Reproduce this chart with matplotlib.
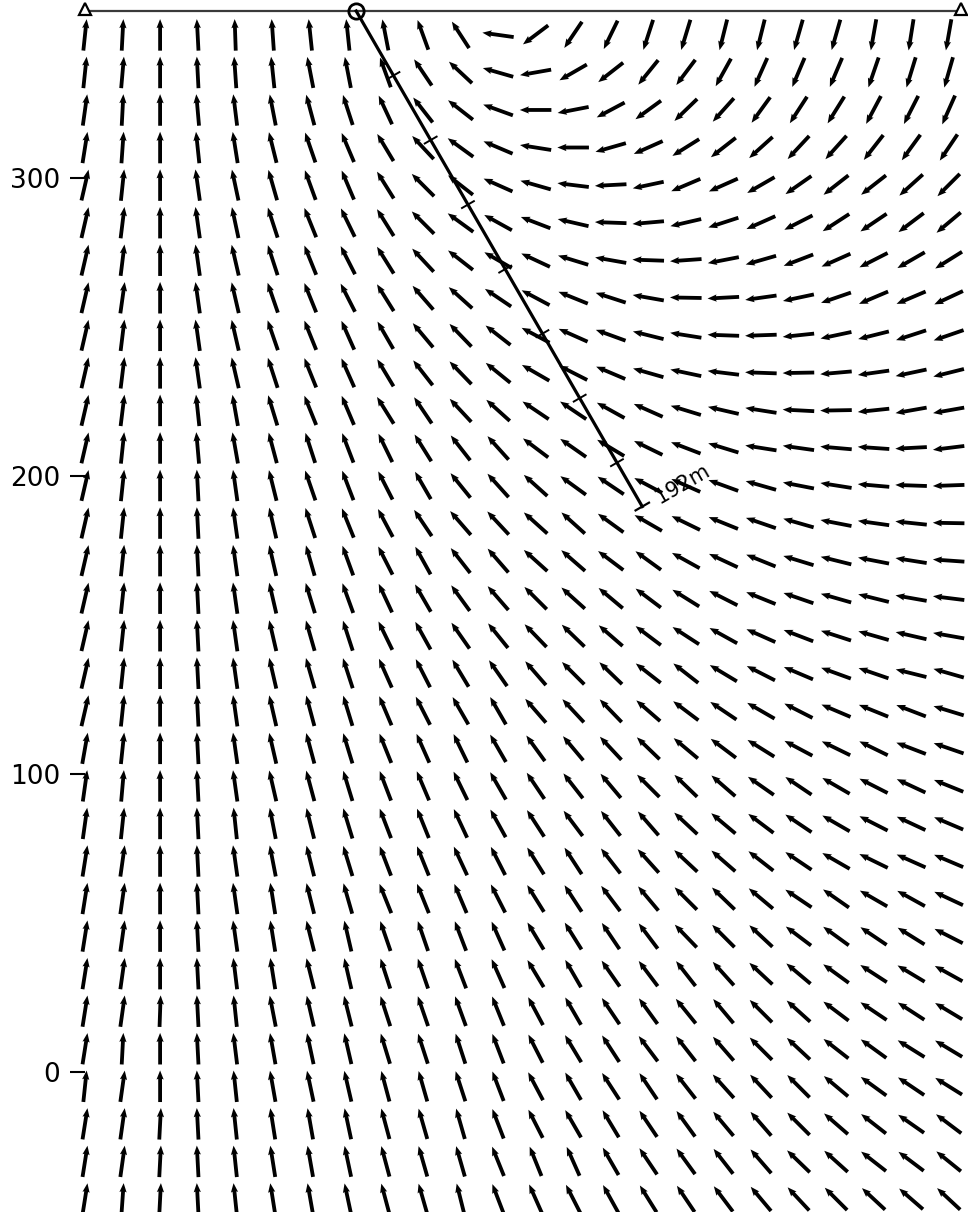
import matplotlib
matplotlib.use('Agg')
import matplotlib.pyplot as plt
import numpy as np

# field directions in degrees (counter-clockwise from east), one row per elevation
# rows go from the top of the section downwards, columns west -> east
angle_rows = [
    [84, 87, 90, 93, 92, 94, 96, 96, 101, 110, 123, 172, 217, 236, 244, 252, 253, 256, 256, 254, 254, 260, 261, 260],
    [84, 85, 90, 93, 94, 96, 101, 101, 110, 124, 137, 164, 190, 210, 218, 231, 233, 241, 246, 247, 247, 251, 253, 254],
    [82, 87, 90, 95, 97, 101, 105, 108, 115, 128, 142, 160, 180, 191, 208, 216, 224, 228, 234, 237, 238, 242, 243, 246],
    [81, 86, 90, 96, 99, 104, 109, 113, 121, 133, 144, 157, 171, 180, 196, 204, 212, 218, 222, 227, 228, 232, 234, 236],
    [77, 84, 90, 98, 102, 106, 110, 113, 122, 135, 142, 156, 164, 173, 183, 192, 203, 204, 210, 215, 218, 218, 222, 225],
    [77, 83, 90, 98, 102, 108, 112, 116, 122, 135, 144, 151, 159, 167, 178, 185, 193, 198, 204, 207, 213, 214, 217, 220],
    [77, 83, 90, 98, 103, 108, 112, 117, 122, 133, 142, 150, 155, 163, 170, 178, 184, 191, 196, 201, 204, 207, 210, 212],
    [77, 82, 90, 98, 103, 109, 112, 117, 122, 131, 138, 146, 152, 158, 162, 170, 179, 183, 188, 192, 199, 203, 203, 205],
    [77, 83, 90, 98, 103, 109, 112, 114, 120, 130, 134, 142, 152, 156, 160, 166, 171, 178, 182, 186, 192, 194, 198, 199],
    [77, 83, 90, 98, 103, 108, 112, 114, 121, 128, 134, 141, 150, 153, 157, 164, 168, 173, 178, 181, 185, 188, 192, 194],
    [77, 83, 90, 96, 100, 107, 112, 113, 122, 124, 133, 138, 146, 146, 151, 156, 163, 167, 171, 177, 181, 186, 190, 190],
    [77, 84, 90, 95, 100, 105, 108, 111, 116, 122, 128, 132, 143, 145, 149, 154, 159, 163, 171, 172, 175, 176, 183, 187],
    [77, 84, 90, 93, 98, 104, 109, 111, 117, 120, 129, 132, 138, 144, 146, 152, 156, 160, 164, 169, 171, 175, 178, 182],
    [77, 84, 90, 93, 98, 103, 108, 112, 118, 124, 131, 133, 138, 138, 144, 150, 154, 158, 161, 164, 169, 172, 174, 179],
    [77, 84, 90, 93, 98, 103, 106, 110, 117, 119, 128, 131, 138, 139, 143, 144, 151, 155, 158, 163, 166, 169, 171, 176],
    [77, 84, 90, 93, 98, 103, 107, 110, 115, 120, 126, 131, 135, 138, 140, 143, 148, 153, 158, 161, 164, 166, 170, 173],
    [77, 84, 90, 93, 98, 103, 106, 108, 116, 119, 125, 129, 134, 136, 139, 143, 147, 151, 156, 159, 162, 164, 167, 170],
    [77, 84, 90, 93, 98, 103, 106, 108, 114, 117, 121, 125, 131, 135, 136, 142, 142, 149, 153, 157, 160, 161, 166, 164],
    [77, 84, 90, 93, 98, 103, 105, 107, 113, 117, 120, 120, 131, 133, 134, 139, 143, 146, 150, 153, 157, 158, 159, 163],
    [80, 84, 90, 93, 98, 103, 105, 107, 112, 114, 116, 120, 126, 130, 133, 136, 140, 143, 148, 152, 154, 154, 159, 161],
    [82, 85, 90, 93, 98, 103, 105, 107, 111, 113, 116, 120, 124, 128, 130, 135, 136, 139, 145, 146, 150, 153, 155, 158],
    [82, 84, 90, 93, 96, 101, 104, 107, 111, 112, 115, 119, 123, 127, 128, 131, 137, 140, 143, 146, 150, 153, 155, 157],
    [81, 82, 90, 93, 98, 101, 104, 107, 111, 112, 115, 117, 122, 123, 128, 132, 137, 139, 142, 146, 150, 154, 156, 157],
    [81, 82, 90, 93, 98, 99, 104, 106, 112, 112, 113, 117, 122, 123, 127, 130, 135, 136, 140, 146, 145, 150, 151, 155],
    [81, 82, 90, 93, 98, 99, 104, 103, 109, 109, 111, 114, 121, 122, 124, 127, 134, 135, 137, 143, 144, 146, 148, 153],
    [81, 82, 90, 93, 97, 99, 104, 103, 108, 109, 111, 114, 121, 120, 125, 127, 128, 132, 137, 140, 144, 147, 149, 151],
    [81, 82, 88, 93, 96, 101, 103, 104, 108, 109, 110, 112, 118, 120, 124, 126, 129, 130, 135, 138, 143, 146, 147, 149],
    [81, 87, 90, 93, 97, 100, 102, 103, 107, 108, 108, 111, 117, 121, 123, 127, 128, 131, 135, 137, 142, 144, 148, 149],
    [84, 82, 90, 93, 96, 100, 102, 103, 105, 106, 108, 111, 118, 120, 123, 124, 128, 132, 133, 135, 140, 144, 146, 148],
    [81, 82, 87, 93, 96, 99, 100, 102, 105, 106, 106, 111, 117, 120, 121, 124, 126, 130, 131, 135, 139, 142, 145, 143],
    [81, 82, 87, 93, 96, 99, 100, 102, 105, 106, 106, 112, 112, 114, 120, 124, 126, 128, 131, 136, 138, 142, 143, 141],
    [81, 86, 87, 93, 96, 99, 100, 102, 105, 106, 104, 111, 114, 117, 119, 122, 124, 127, 130, 133, 135, 137, 139, 137],
]

# sample grid (m): regular spacing along the section and in elevation
grid_step = 12.6
east = np.arange(len(angle_rows[0])) * grid_step
elev = 348 - np.arange(len(angle_rows)) * grid_step

# survey line and borehole
surface_elev = 356
line_ends = [0, 294]
collar_x = 91
hole_dip = 60        # degrees below horizontal, dipping east
hole_length = 192
hole_marks = [25, 50, 75, 100, 125, 150, 175]
y_ticks = [0, 100, 200, 300]

fig = plt.figure(figsize=(9.68, 12.12), dpi=100)
ax = fig.add_axes([85 / 968, 0, 883 / 968, 1])
ax.set_xlim(0, 296.3)
ax.set_ylim(-47, 359.7)

ang = np.radians(np.array(angle_rows, dtype=float))
X, Y = np.meshgrid(east, elev)
q = ax.quiver(X, Y, np.cos(ang), np.sin(ang), pivot='middle', color='black',
              units='dots', width=3.8, scale_units='xy', scale=1 / 10.6,
              headwidth=1.9, headlength=2.4, headaxislength=2.2, zorder=2)
q.set_clip_on(False)

# surface line with end stations and the collar
ax.plot(line_ends, [surface_elev, surface_elev], color='#3a3a3a', lw=1.6, zorder=3,
        clip_on=False)
ax.plot(line_ends, [surface_elev + 0.6, surface_elev + 0.6], ls='none', marker='^',
        ms=8, mfc='white', mec='black', mew=1.6, zorder=4, clip_on=False)
ax.plot([collar_x], [surface_elev], ls='none', marker='o', ms=11, mfc='none',
        mec='black', mew=2, zorder=4)

# borehole trace
d = np.radians(hole_dip)
dx, dy = np.cos(d), -np.sin(d)
px, py = -dy, dx
end_x = collar_x + hole_length * dx
end_y = surface_elev + hole_length * dy
ax.plot([collar_x, end_x], [surface_elev, end_y], color='black', lw=2.3, zorder=3)
for m in hole_marks:
    cx, cy = collar_x + m * dx, surface_elev + m * dy
    ax.plot([cx - 2.3 * px, cx + 2.3 * px], [cy - 2.3 * py, cy + 2.3 * py],
            color='black', lw=1.4, zorder=3)
ax.plot([end_x - 2.6 * px, end_x + 2.6 * px], [end_y - 2.6 * py, end_y + 2.6 * py],
        color='black', lw=1.6, zorder=3)
ax.text(end_x + 5.5 * px, end_y + 5.5 * py, f'{hole_length}m', rotation=90 - hole_dip,
        rotation_mode='anchor', ha='left', va='center', fontsize=15, zorder=5)

for s in ax.spines.values():
    s.set_visible(False)
ax.set_xticks([])
ax.set_yticks(y_ticks)
ax.tick_params(axis='y', length=11, width=1.5, pad=7, labelsize=19)

fig.savefig('out.png', dpi=100)
